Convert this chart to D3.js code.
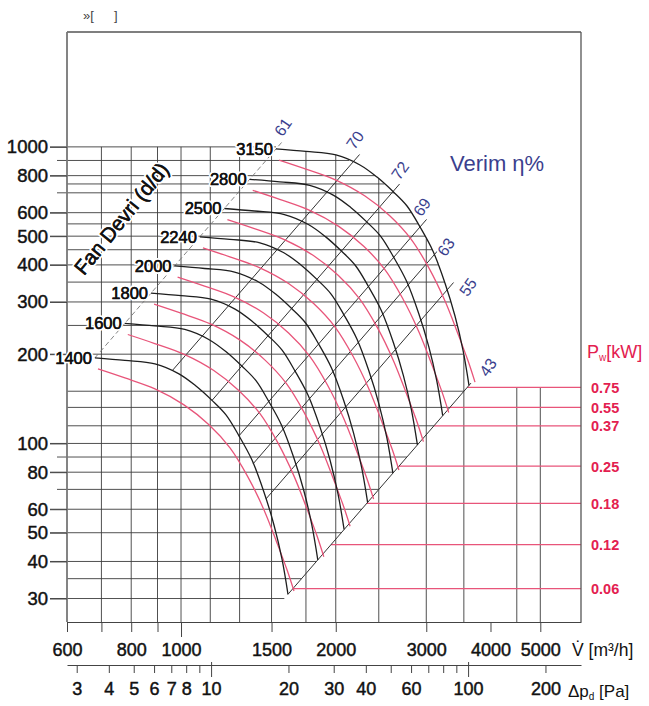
<!DOCTYPE html>
<html><head><meta charset="utf-8">
<script src="https://cdn.jsdelivr.net/npm/d3@7"></script>
<style>
body{margin:0;background:#fff}
svg{display:block}
text{font-family:"Liberation Sans",Arial,Helvetica,sans-serif}
</style>
</head><body>
<svg id="c" width="649" height="706"></svg>
<script>
// ---------------- DATA ----------------
const rpmLabels = [1400, 1600, 1800, 2000, 2240, 2500, 2800, 3150];

// black speed curves: flow V [m3/h] and pressure [Pa], one row per rpm
const blackFlow = [
  [680, 777.8, 889.8, 990.7, 1069.3, 1148.9, 1223.1, 1296.4, 1374.2, 1450.2, 1516.4, 1572.0, 1614.7],
  [777.1, 888.9, 1016.9, 1132.2, 1222.1, 1313.0, 1397.9, 1481.7, 1570.5, 1657.4, 1733.1, 1796.6, 1845.3],
  [874.3, 1000, 1144.0, 1273.7, 1374.9, 1477.1, 1572.6, 1666.9, 1766.9, 1864.6, 1949.7, 2021.1, 2076.0],
  [971.4, 1111.1, 1271.1, 1415.2, 1527.6, 1641.3, 1747.3, 1852.1, 1963.2, 2071.7, 2166.3, 2245.7, 2306.7],
  [1088.0, 1244.4, 1423.6, 1585.1, 1710.9, 1838.2, 1957.0, 2074.3, 2198.8, 2320.4, 2426.3, 2515.2, 2583.5],
  [1214.3, 1388.9, 1588.9, 1769.0, 1909.5, 2051.6, 2184.1, 2315.1, 2454.0, 2589.7, 2707.9, 2807.1, 2883.3],
  [1360.0, 1555.6, 1779.6, 1981.3, 2138.7, 2297.8, 2446.2, 2592.9, 2748.4, 2900.4, 3032.9, 3144.0, 3229.3],
  [1530, 1750, 2002, 2229, 2406, 2585, 2752, 2917, 3092, 3263, 3412, 3537, 3633]
];
const blackPress = [
  [194.4, 190.6, 185.5, 171.7, 156.2, 139.7, 124.8, 106.1, 87.9, 68.5, 53.1, 40.7, 31.0],
  [253.9, 249.0, 242.3, 224.2, 204.1, 182.4, 163.1, 138.5, 114.8, 89.5, 69.4, 53.1, 40.5],
  [321.3, 315.1, 306.6, 283.8, 258.3, 230.9, 206.4, 175.3, 145.3, 113.3, 87.8, 67.3, 51.3],
  [396.7, 389.0, 378.5, 350.3, 318.9, 285.0, 254.8, 216.5, 179.4, 139.9, 108.4, 83.0, 63.3],
  [497.6, 488.0, 474.8, 439.4, 400.0, 357.5, 319.6, 271.5, 225.0, 175.5, 136.0, 104.2, 79.4],
  [619.8, 607.8, 591.5, 547.4, 498.2, 445.3, 398.1, 338.2, 280.3, 218.6, 169.4, 129.8, 98.9],
  [777.5, 762.5, 741.9, 686.6, 625.0, 558.6, 499.4, 424.3, 351.6, 274.2, 212.5, 162.8, 124.1],
  [984, 965, 939, 869, 791, 707, 632, 537, 445, 347, 269, 206, 157]
];

// red curves, one row per rpm
const redFlow = [
  [689.3, 777.8, 889.8, 1013.3, 1133.3, 1245.3, 1349.8, 1450.2, 1536.9, 1607.6, 1658.7],
  [787.8, 888.9, 1016.9, 1158.1, 1295.2, 1423.2, 1542.6, 1657.4, 1756.5, 1837.2, 1895.6],
  [886.3, 1000, 1144.0, 1302.9, 1457.1, 1601.1, 1735.4, 1864.6, 1976.0, 2066.9, 2132.6],
  [984.8, 1111.1, 1271.1, 1447.6, 1619.0, 1779.0, 1928.2, 2071.7, 2195.6, 2296.5, 2369.6],
  [1102.9, 1244.4, 1423.6, 1621.3, 1813.3, 1992.5, 2159.6, 2320.4, 2459.0, 2572.1, 2653.9],
  [1230.9, 1388.9, 1588.9, 1809.5, 2023.8, 2223.8, 2410.3, 2589.7, 2744.4, 2870.6, 2961.9],
  [1378.7, 1555.6, 1779.6, 2026.7, 2266.7, 2490.7, 2699.6, 2900.4, 3073.8, 3215.1, 3317.3],
  [1551, 1750, 2002, 2280, 2550, 2802, 3037, 3263, 3458, 3617, 3732]
];
const redPress = [
  [178.4, 166.3, 152.7, 134.9, 115.6, 96.6, 77.0, 59.7, 46.2, 37.5, 31.8],
  [233.0, 217.2, 199.4, 176.2, 150.9, 126.2, 100.6, 77.9, 60.4, 49.0, 41.5],
  [294.9, 274.9, 252.4, 223.0, 191.0, 159.7, 127.3, 98.6, 76.4, 62.0, 52.6],
  [364.0, 339.4, 311.6, 275.3, 235.8, 197.1, 157.2, 121.7, 94.3, 76.6, 64.9],
  [456.6, 425.8, 390.9, 345.4, 295.8, 247.3, 197.2, 152.7, 118.3, 96.1, 81.4],
  [568.8, 530.4, 486.9, 430.2, 368.5, 308.0, 245.7, 190.2, 147.4, 119.7, 101.4],
  [713.5, 665.3, 610.8, 539.6, 462.2, 386.4, 308.1, 238.6, 184.9, 150.1, 127.2],
  [903, 842, 773, 683, 585, 489, 390, 302, 234, 190, 161]
];

// efficiency lines (Verim %): end on lowest curve and on highest curve
const effLabels = [61, 70, 72, 69, 63, 55, 43];
const effFlowLow = [680, 960.4, 1148.9, 1296.4, 1380.4, 1463.1, 1614.7];
const effPressLow = [194.4, 175.6, 139.7, 106.1, 85.3, 65.0, 31.0];
const effFlowHigh = [1530, 2161, 2585, 2917, 3106, 3292, 3633];
const effPressHigh = [984, 889, 707, 537, 432, 329, 157];

// motor power levels (right scale) and where they sit on the pressure axis
const powerKw = ["0.75", "0.55", "0.37", "0.25", "0.18", "0.12", "0.06"];
const powerPress = [154.5, 132.3, 114.7, 83.8, 62.8, 45.6, 32.4];

// grid and tick values
const gridFlow = [700, 800, 900, 1000, 1140, 1300, 1500, 1750, 2000, 2425, 3000, 3550, 4500, 5000];
const gridPress = [1000, 900, 800, 750, 700, 600, 550, 500, 450, 400, 350, 300, 250, 200, 150, 132.3, 114.7, 100, 90, 80, 70, 60, 50, 40, 35, 30];
const pressTickLabels = [1000, 800, 600, 500, 400, 300, 200, 100, 80, 60, 50, 40, 30];
const pressMinorTicks = [900, 700, 90, 70];
const flowTickLabels = [600, 800, 1000, 1500, 2000, 3000, 4000, 5000];
const flowTicks = [600, 700, 800, 900, 1000, 1500, 2000, 3000, 4000, 5000];
const pdTicks = [3, 4, 5, 6, 7, 8, 9, 10, 20, 30, 40, 50, 60, 70, 80, 90, 100, 200];
const pdTickLabels = [3, 4, 5, 6, 7, 8, 10, 20, 30, 40, 60, 100, 200];

// ---------------- LAYOUT / STYLE ----------------
const L = 67, R = 581, T = 32, B = 622;
const x = d3.scaleLog().domain([600, 6000]).range([L, R]);
const y = d3.scaleLog().domain([25, 2440]).range([B, T]);
const xPd = d3.scaleLog().domain([2.75, 275]).range([L, R]);

const BLACK = "#1e1e1e", GRID = "#3c3c3c", RED = "#e8557a", REDTXT = "#e3204f", BLUE = "#3b3f8e";
const effNudge = [[7, -22], [2, -22], [7, -21], [2, -20], [12, -8], [21, -3], [19, -18]];

const svg = d3.select("#c");

// helpers for the clipping envelope of the grid
const topF = blackFlow[blackFlow.length - 1], topP = blackPress[blackPress.length - 1];
const lg = Math.log;
function lerpLog(a0, a1, b0, b1, v) {
  const t = (lg(v) - lg(a0)) / (lg(a1) - lg(a0));
  return Math.exp(lg(b0) + t * (lg(b1) - lg(b0)));
}
function topDpAt(V) {
  if (V <= topF[0]) return 1000;
  if (V >= topF[topF.length - 1]) return powerPress[0];
  for (let i = 0; i < topF.length - 1; i++)
    if (V >= topF[i] && V <= topF[i + 1]) return lerpLog(topF[i], topF[i + 1], topP[i], topP[i + 1], V);
}
const k43 = effLabels.length - 1;
function v43(p) { return lerpLog(effPressLow[k43], effPressHigh[k43], effFlowLow[k43], effFlowHigh[k43], p); }
function rightVAt(p) {
  if (p >= topP[0]) return topF[0];
  if (p >= topP[topP.length - 1]) {
    for (let i = 0; i < topP.length - 1; i++)
      if (p <= topP[i] && p >= topP[i + 1]) return lerpLog(topP[i], topP[i + 1], topF[i], topF[i + 1], p);
  }
  return v43(p);
}

// ---------------- GRID ----------------
const grid = svg.append("g").attr("stroke", GRID).attr("stroke-width", 0.9);
grid.selectAll("line.h").data(gridPress).join("line")
  .attr("x1", p => pressTickLabels.includes(p) ? 50 : (pressMinorTicks.includes(p) ? 57 : L))
  .attr("x2", p => x(rightVAt(p)))
  .attr("y1", p => y(p)).attr("y2", p => y(p));
grid.selectAll("line.v").data(gridFlow).join("line")
  .attr("x1", v => x(v)).attr("x2", v => x(v))
  .attr("y1", B).attr("y2", v => y(topDpAt(v)));

// ---------------- POWER LINES ----------------
svg.append("g").selectAll("line").data(powerPress).join("line")
  .attr("x1", p => x(v43(p))).attr("x2", R)
  .attr("y1", p => y(p)).attr("y2", p => y(p))
  .attr("stroke", RED).attr("stroke-width", 1.2);

// ---------------- EFFICIENCY LINES ----------------
const effG = svg.append("g");
effLabels.forEach((e, i) => {
  const x0 = x(effFlowLow[i]), y0 = y(effPressLow[i]);
  const x1 = x(effFlowHigh[i]), y1 = y(effPressHigh[i]);
  const len = Math.hypot(x1 - x0, y1 - y0);
  const ext = (i === k43) ? 3 : 10;
  const xe = x1 + (x1 - x0) / len * ext, ye = y1 + (y1 - y0) / len * ext;
  effG.append("line").attr("x1", x0).attr("y1", y0).attr("x2", xe).attr("y2", ye)
    .attr("stroke", i === 0 ? "#777" : "#333")
    .attr("stroke-width", i === 0 ? 0.9 : 1)
    .attr("stroke-dasharray", i === 0 ? "5,3" : null);
});

// ---------------- CURVES ----------------
const lineGen = d3.line().x(d => x(d[0])).y(d => y(d[1])).curve(d3.curveCatmullRom.alpha(0.5));
svg.append("g").selectAll("path").data(redFlow.map((row, i) => row.map((v, j) => [v, redPress[i][j]])))
  .join("path").attr("d", lineGen).attr("fill", "none").attr("stroke", RED).attr("stroke-width", 1.3);
svg.append("g").selectAll("path").data(blackFlow.map((row, i) => row.map((v, j) => [v, blackPress[i][j]])))
  .join("path").attr("d", lineGen).attr("fill", "none").attr("stroke", BLACK).attr("stroke-width", 1.3);

// ---------------- FRAME ----------------
svg.append("line").attr("x1", L).attr("x2", R).attr("y1", T).attr("y2", T).attr("stroke", "#555").attr("stroke-width", 1.6);
svg.append("line").attr("x1", L).attr("x2", L).attr("y1", T).attr("y2", B).attr("stroke", "#777").attr("stroke-width", 1.8);
svg.append("line").attr("x1", R).attr("x2", R).attr("y1", T).attr("y2", B).attr("stroke", "#555").attr("stroke-width", 1.3);

// ---------------- AXES ----------------
const thick = sel => sel.attr("stroke", "#111").attr("stroke-width", 0.45);

const yAxis = svg.append("g").attr("transform", `translate(${L},0)`)
  .call(d3.axisLeft(y).tickValues(pressTickLabels).tickFormat(d3.format("d")).tickSize(17).tickPadding(2));
yAxis.select(".domain").remove();
yAxis.selectAll("line").attr("stroke", GRID).attr("stroke-width", 0.9);
yAxis.selectAll("text").attr("font-size", 18.5).attr("fill", "#111").attr("font-family", "Liberation Sans, Arial, sans-serif").call(thick);

const xAxis = svg.append("g").attr("transform", `translate(0,${B})`)
  .call(d3.axisBottom(x).tickValues(flowTicks)
    .tickFormat(v => flowTickLabels.includes(v) ? d3.format("d")(v) : "")
    .tickSize(10).tickPadding(11).tickSizeOuter(0));
xAxis.select(".domain").attr("stroke", "#444").attr("stroke-width", 1.2);
xAxis.selectAll(".tick line").attr("stroke", "#444").attr("y2", v => v === 1000 ? 15 : 10);
xAxis.selectAll("text").attr("font-size", 18).attr("fill", "#111").attr("font-family", "Liberation Sans, Arial, sans-serif").call(thick);

const pdY = 665;
const pdAxis = svg.append("g").attr("transform", `translate(0,${pdY})`)
  .call(d3.axisBottom(xPd).tickValues(pdTicks)
    .tickFormat(v => pdTickLabels.includes(v) ? String(v) : "")
    .tickSize(8).tickPadding(9).tickSizeOuter(0));
pdAxis.select(".domain").attr("stroke", "#444").attr("stroke-width", 1.2);
pdAxis.selectAll(".tick line").attr("stroke", "#444").attr("y1", v => (v === 10 || v === 100) ? -3 : 0).attr("y2", v => (v === 10 || v === 100) ? 12 : 8);
pdAxis.selectAll("text").attr("font-size", 18).attr("fill", "#111").attr("font-family", "Liberation Sans, Arial, sans-serif").call(thick);

// axis titles
svg.append("text").attr("x", 572).attr("y", 656).attr("font-size", 17.5).attr("fill", "#111")
  .text("V\u0307 [m\u00B3/h]");
const pt = svg.append("text").attr("x", 568).attr("y", 697).attr("font-size", 17).attr("fill", "#111");
pt.append("tspan").text("\u0394p");
pt.append("tspan").attr("font-size", 10).attr("dy", 3).text("d");
pt.append("tspan").attr("dy", -3).text(" [Pa]");

// ---------------- LABELS ----------------
const halo = sel => sel.attr("stroke", "#fff").attr("stroke-width", 4).attr("paint-order", "stroke").attr("stroke-linejoin", "round");

// rpm labels at curve starts (white knock-out, then thickened text)
const rpmG = svg.append("g");
["halo", "ink"].forEach(layer => {
  const t = rpmG.append("g").selectAll("text").data(rpmLabels).join("text")
    .attr("x", (d, i) => x(blackFlow[i][0]) - 3)
    .attr("y", (d, i) => y(blackPress[i][0]) + 6)
    .attr("text-anchor", "end").attr("font-size", 16.5).attr("fill", "#111")
    .text(d => d);
  if (layer === "halo") t.call(halo); else t.call(thick);
});

// Fan Devri
const fd = svg.append("g").attr("transform", "translate(127,223) rotate(-51)");
fd.append("text").attr("text-anchor", "middle").attr("font-size", 20.5).attr("fill", "#111")
  .text("Fan Devri (d/d)").call(halo);
fd.append("text").attr("text-anchor", "middle").attr("font-size", 20.5).attr("fill", "#111")
  .text("Fan Devri (d/d)").call(thick);

// efficiency labels
svg.append("g").selectAll("text").data(effLabels).join("text")
  .attr("transform", (d, i) => `translate(${x(effFlowHigh[i]) + effNudge[i][0]},${y(effPressHigh[i]) + effNudge[i][1]}) rotate(-55)`)
  .attr("text-anchor", "middle").attr("dy", "0.35em").attr("font-size", 16).attr("fill", BLUE)
  .text(d => d).call(halo);

svg.append("text").attr("x", 450).attr("y", 171).attr("font-size", 22).attr("fill", BLUE).text("Verim \u03B7%");

// power labels
svg.append("g").selectAll("text").data(powerKw).join("text")
  .attr("x", 591).attr("y", (d, i) => y(powerPress[i]) + 5.5)
  .attr("font-size", 14.5).attr("font-weight", "bold").attr("fill", REDTXT).text(d => d);
const pw = svg.append("text").attr("x", 587).attr("y", 358).attr("font-size", 18).attr("fill", REDTXT);
pw.append("tspan").text("P");
pw.append("tspan").attr("font-size", 10).attr("dy", 3).text("w");
pw.append("tspan").attr("dy", -3).text("[kW]");

// top-left stray mark
svg.append("text").attr("x", 83).attr("y", 20).attr("font-size", 13).attr("fill", "#444").text("\u00BB[");
svg.append("text").attr("x", 114).attr("y", 20).attr("font-size", 13).attr("fill", "#444").text("]");
</script>
</body></html>
